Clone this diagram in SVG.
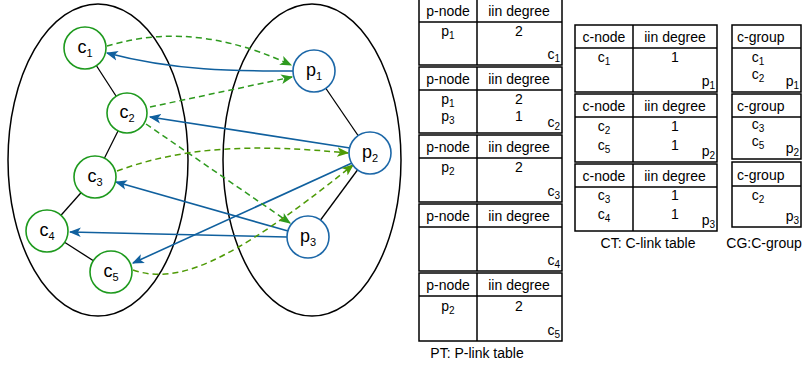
<svg xmlns="http://www.w3.org/2000/svg" width="803" height="367" viewBox="0 0 803 367">
<defs>
<style>
text{font-family:"Liberation Sans",Arial,sans-serif;fill:#000}
.n{font-size:18px;text-anchor:middle}
.t{font-size:14px}
.m{text-anchor:middle}
.e{text-anchor:end}
.s{font-size:10px}
.ell{fill:none;stroke:#000;stroke-width:1.5}
.cn{fill:#fff;stroke:#1e9a1e;stroke-width:1.6}
.pn{fill:#fff;stroke:#1d68a8;stroke-width:1.6}
.edge{stroke:#000;stroke-width:1.3;fill:none}
.blue{stroke:#10609e;stroke-width:1.6;fill:none;marker-end:url(#ab)}
.green{stroke:#2e9a1e;stroke-width:1.5;fill:none;stroke-dasharray:6 4;marker-end:url(#ag)}
.olive{stroke:#4e9a06;stroke-width:1.5;fill:none;stroke-dasharray:6 4;marker-end:url(#ao)}
.tb{fill:#fff;stroke:#000;stroke-width:1.5}
.ln{stroke:#000;stroke-width:1.5}
</style>
<marker id="ab" viewBox="0 0 10 10" refX="9" refY="5" markerWidth="12" markerHeight="12" markerUnits="userSpaceOnUse" orient="auto"><path d="M0,1 L10,5 L0,9 L2.5,5 z" fill="#10609e"/></marker>
<marker id="ag" viewBox="0 0 10 10" refX="9" refY="5" markerWidth="12" markerHeight="12" markerUnits="userSpaceOnUse" orient="auto"><path d="M0,1 L10,5 L0,9 L2.5,5 z" fill="#2e9a1e"/></marker>
<marker id="ao" viewBox="0 0 10 10" refX="9" refY="5" markerWidth="12" markerHeight="12" markerUnits="userSpaceOnUse" orient="auto"><path d="M0,1 L10,5 L0,9 L2.5,5 z" fill="#4e9a06"/></marker>
</defs>
<rect width="803" height="367" fill="#fff"/>
<g id="sets">
<ellipse class="ell" cx="98" cy="160" rx="90" ry="156"/>
<ellipse class="ell" cx="312" cy="160" rx="89" ry="156"/>
</g>
<g id="connectors">
<line class="edge" x1="85" y1="48" x2="127" y2="113"/>
<line class="edge" x1="127" y1="113" x2="95" y2="177"/>
<line class="edge" x1="95" y1="177" x2="47" y2="231"/>
<line class="edge" x1="47" y1="231" x2="111" y2="272"/>
<line class="edge" x1="314" y1="71" x2="370" y2="153"/>
<line class="edge" x1="370" y1="153" x2="308" y2="237"/>
<path class="blue" d="M293,71 C235,71 175,71 107,53"/>
<path class="blue" d="M350,148 L150,117"/>
<path class="blue" d="M352,163 L133,263"/>
<path class="blue" d="M288,231 L116,182"/>
<path class="blue" d="M287,237 L70,232"/>
<path class="green" d="M107,46 C145,35 205,25 291,65"/>
<path class="green" d="M150,107 L292,77"/>
<path class="green" d="M146,124 L290,223"/>
<path class="olive" d="M117,171 C185,146 255,144 348,153"/>
<path class="olive" d="M133,270 C175,284 225,268 353,165"/>
</g>
<g id="c1"><circle class="cn" cx="85" cy="48" r="21"/><text class="n" x="85" y="53">c<tspan font-size="11" dy="4">1</tspan></text></g>
<g id="c2"><circle class="cn" cx="127" cy="113" r="20"/><text class="n" x="127" y="118">c<tspan font-size="11" dy="4">2</tspan></text></g>
<g id="c3"><circle class="cn" cx="95" cy="177" r="21"/><text class="n" x="95" y="182">c<tspan font-size="11" dy="4">3</tspan></text></g>
<g id="c4"><circle class="cn" cx="47" cy="231" r="21"/><text class="n" x="47" y="236">c<tspan font-size="11" dy="4">4</tspan></text></g>
<g id="c5"><circle class="cn" cx="111" cy="272" r="21"/><text class="n" x="111" y="277">c<tspan font-size="11" dy="4">5</tspan></text></g>
<g id="p1"><circle class="pn" cx="314" cy="71" r="21"/><text class="n" x="314" y="76">p<tspan font-size="11" dy="4">1</tspan></text></g>
<g id="p2"><circle class="pn" cx="370" cy="153" r="21"/><text class="n" x="370" y="158">p<tspan font-size="11" dy="4">2</tspan></text></g>
<g id="p3"><circle class="pn" cx="308" cy="237" r="21"/><text class="n" x="308" y="242">p<tspan font-size="11" dy="4">3</tspan></text></g>

<g id="PT">
<g id="pt1">
<rect class="tb" x="419" y="-1" width="143" height="66"/>
<line class="ln" x1="419" y1="22" x2="562" y2="22"/><line class="ln" x1="477" y1="-1" x2="477" y2="65"/>
<text class="t m" x="448" y="16">p-node</text><text class="t m" x="519" y="16">iin degree</text>
<text class="t m" x="448" y="36">p<tspan class="s" dy="3">1</tspan></text><text class="t m" x="519" y="36">2</text>
<text class="t e" x="560" y="59">c<tspan class="s" dy="3">1</tspan></text>
</g>
<g id="pt2">
<rect class="tb" x="419" y="67" width="143" height="66"/>
<line class="ln" x1="419" y1="90" x2="562" y2="90"/><line class="ln" x1="477" y1="67" x2="477" y2="133"/>
<text class="t m" x="448" y="84">p-node</text><text class="t m" x="519" y="84">iin degree</text>
<text class="t m" x="448" y="104">p<tspan class="s" dy="3">1</tspan></text><text class="t m" x="519" y="104">2</text>
<text class="t m" x="448" y="121">p<tspan class="s" dy="3">3</tspan></text><text class="t m" x="519" y="121">1</text>
<text class="t e" x="560" y="127">c<tspan class="s" dy="3">2</tspan></text>
</g>
<g id="pt3">
<rect class="tb" x="419" y="135" width="143" height="67"/>
<line class="ln" x1="419" y1="158" x2="562" y2="158"/><line class="ln" x1="477" y1="135" x2="477" y2="202"/>
<text class="t m" x="448" y="152">p-node</text><text class="t m" x="519" y="152">iin degree</text>
<text class="t m" x="448" y="172">p<tspan class="s" dy="3">2</tspan></text><text class="t m" x="519" y="172">2</text>
<text class="t e" x="560" y="196">c<tspan class="s" dy="3">3</tspan></text>
</g>
<g id="pt4">
<rect class="tb" x="419" y="204" width="143" height="67"/>
<line class="ln" x1="419" y1="227" x2="562" y2="227"/><line class="ln" x1="477" y1="204" x2="477" y2="271"/>
<text class="t m" x="448" y="221">p-node</text><text class="t m" x="519" y="221">iin degree</text>
<text class="t e" x="560" y="265">c<tspan class="s" dy="3">4</tspan></text>
</g>
<g id="pt5">
<rect class="tb" x="419" y="273" width="143" height="68"/>
<line class="ln" x1="419" y1="296" x2="562" y2="296"/><line class="ln" x1="477" y1="273" x2="477" y2="341"/>
<text class="t m" x="448" y="290">p-node</text><text class="t m" x="519" y="290">iin degree</text>
<text class="t m" x="448" y="311">p<tspan class="s" dy="3">2</tspan></text><text class="t m" x="519" y="311">2</text>
<text class="t e" x="560" y="335">c<tspan class="s" dy="3">5</tspan></text>
</g>
<text class="t m" x="477" y="358">PT: P-link table</text>
</g>

<g id="CT">
<g id="ct1">
<rect class="tb" x="575" y="25" width="142" height="67"/>
<line class="ln" x1="575" y1="48" x2="717" y2="48"/><line class="ln" x1="633" y1="25" x2="633" y2="92"/>
<text class="t m" x="604" y="42">c-node</text><text class="t m" x="675" y="42">iin degree</text>
<text class="t m" x="604" y="62">c<tspan class="s" dy="3">1</tspan></text><text class="t m" x="675" y="62">1</text>
<text class="t e" x="715" y="86">p<tspan class="s" dy="3">1</tspan></text>
</g>
<g id="ct2">
<rect class="tb" x="575" y="94" width="142" height="68"/>
<line class="ln" x1="575" y1="117" x2="717" y2="117"/><line class="ln" x1="633" y1="94" x2="633" y2="162"/>
<text class="t m" x="604" y="111">c-node</text><text class="t m" x="675" y="111">iin degree</text>
<text class="t m" x="604" y="131">c<tspan class="s" dy="3">2</tspan></text><text class="t m" x="675" y="131">1</text>
<text class="t m" x="604" y="150">c<tspan class="s" dy="3">5</tspan></text><text class="t m" x="675" y="150">1</text>
<text class="t e" x="715" y="156">p<tspan class="s" dy="3">2</tspan></text>
</g>
<g id="ct3">
<rect class="tb" x="575" y="164" width="142" height="67"/>
<line class="ln" x1="575" y1="187" x2="717" y2="187"/><line class="ln" x1="633" y1="164" x2="633" y2="231"/>
<text class="t m" x="604" y="181">c-node</text><text class="t m" x="675" y="181">iin degree</text>
<text class="t m" x="604" y="200">c<tspan class="s" dy="3">3</tspan></text><text class="t m" x="675" y="200">1</text>
<text class="t m" x="604" y="219">c<tspan class="s" dy="3">4</tspan></text><text class="t m" x="675" y="219">1</text>
<text class="t e" x="715" y="225">p<tspan class="s" dy="3">3</tspan></text>
</g>
<text class="t m" x="648" y="248">CT: C-link table</text>
</g>

<g id="CG">
<g id="cg1">
<rect class="tb" x="732" y="25" width="69" height="67"/>
<line class="ln" x1="732" y1="48" x2="801" y2="48"/>
<text class="t" x="737" y="42">c-group</text>
<text class="t m" x="758" y="62">c<tspan class="s" dy="3">1</tspan></text>
<text class="t m" x="758" y="79">c<tspan class="s" dy="3">2</tspan></text>
<text class="t e" x="799" y="86">p<tspan class="s" dy="3">1</tspan></text>
</g>
<g id="cg2">
<rect class="tb" x="732" y="94" width="69" height="65"/>
<line class="ln" x1="732" y1="117" x2="801" y2="117"/>
<text class="t" x="737" y="111">c-group</text>
<text class="t m" x="758" y="129">c<tspan class="s" dy="3">3</tspan></text>
<text class="t m" x="758" y="146">c<tspan class="s" dy="3">5</tspan></text>
<text class="t e" x="799" y="153">p<tspan class="s" dy="3">2</tspan></text>
</g>
<g id="cg3">
<rect class="tb" x="732" y="162" width="69" height="65"/>
<line class="ln" x1="732" y1="186" x2="801" y2="186"/>
<text class="t" x="737" y="180">c-group</text>
<text class="t m" x="758" y="200">c<tspan class="s" dy="3">2</tspan></text>
<text class="t e" x="799" y="221">p<tspan class="s" dy="3">3</tspan></text>
</g>
<text class="t m" x="764" y="248" font-size="13.5">CG:C-group</text>
</g>
</svg>
